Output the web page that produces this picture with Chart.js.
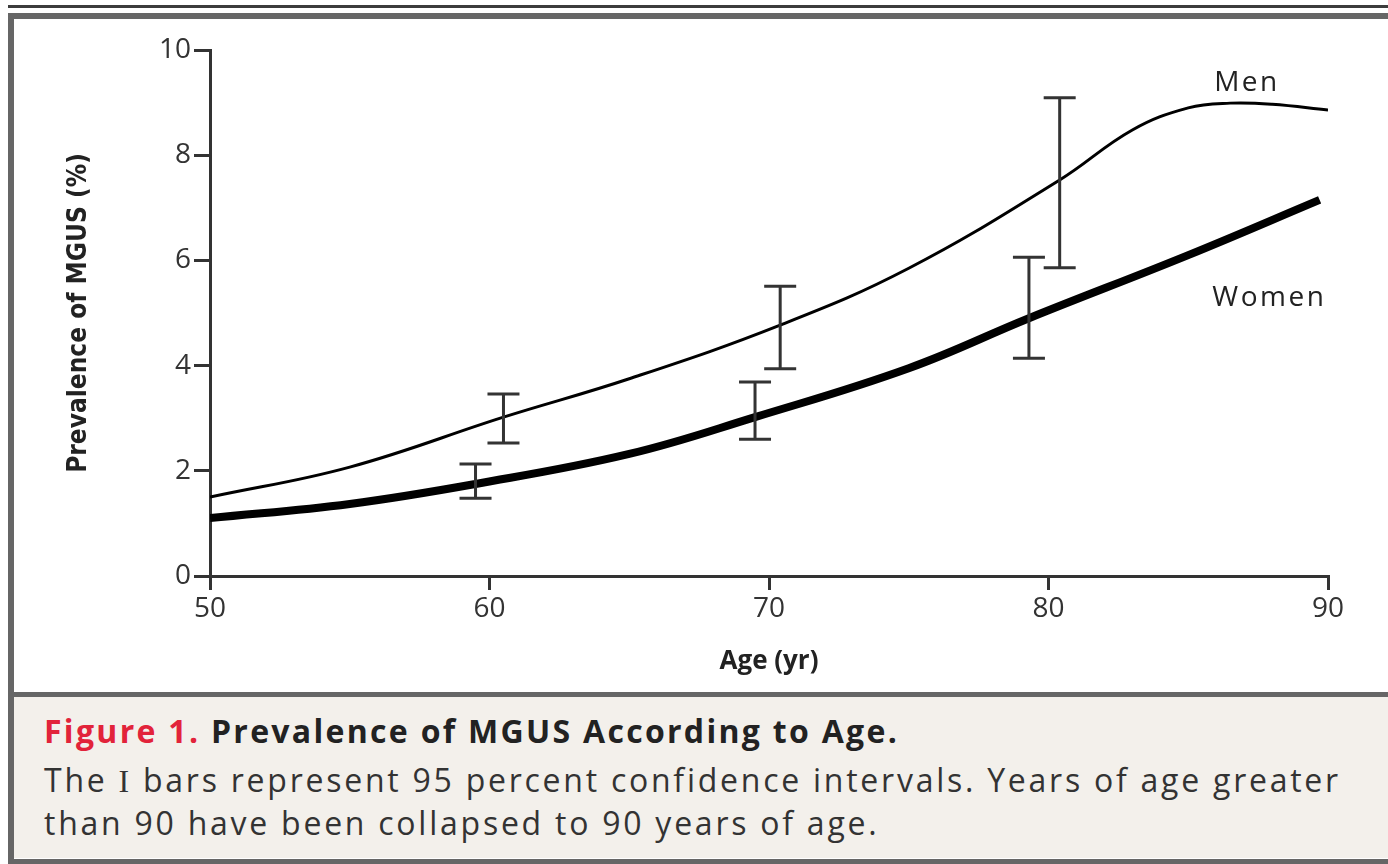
<!DOCTYPE html>
<html>
<head>
<meta charset="utf-8">
<script src="https://cdn.jsdelivr.net/npm/chart.js@4.4.1/dist/chart.umd.min.js"></script>
<style>
  html, body { margin: 0; padding: 0; background: #fff; }
  body { width: 1388px; height: 864px; position: relative; overflow: hidden; font-family: 'Open Sans', sans-serif; }
  #rule { position: absolute; left: 8px; right: 0; top: 5px; height: 3px; background: #3c3c3c; }
  #frame { position: absolute; left: 8px; top: 13px; width: 1400px; height: 840px; border: 6px solid #666; background: #fff; }
  #caption { position: absolute; left: 14px; top: 692px; width: 1400px; height: 161px; border-top: 5px solid #666; background: #f3f0eb; }
  #caption .title { position: absolute; left: 30px; top: 12px; font-size: 32px; font-weight: 700; color: #222; letter-spacing: 2.3px; }
  #caption .title span { color: #e2233a; }
  #caption .text { position: absolute; left: 30px; top: 62px; font-size: 32px; line-height: 42px; color: #333; letter-spacing: 2.75px; width: 1360px; white-space: nowrap; }
  #grafico { position: absolute; left: 0; top: 0; }
</style>
</head>
<body>
<div id="rule"></div>
<div id="frame"></div>
<div id="caption">
  <div class="title"><span>Figure 1.</span> Prevalence of MGUS According to Age.</div>
  <div class="text">The <span style="font-family: 'Liberation Serif', serif;">I</span> bars represent 95 percent confidence intervals. Years of age greater<br>than 90 have been collapsed to 90 years of age.</div>
</div>
<canvas id="grafico" width="1388" height="690"></canvas>
<script>
// curvas ajustadas
const idadesHomens = [50, 55, 60.5, 65, 70.4, 75, 80.4, 83, 85, 86.5, 88, 90];
const prevHomens = [1.50, 2.07, 3.02, 3.75, 4.77, 5.85, 7.53, 8.48, 8.90, 8.99, 8.97, 8.86];
const idadesMulheres = [50, 55, 59.5, 65, 69.5, 75, 79.3, 85, 89.7];
const prevMulheres = [1.10, 1.37, 1.75, 2.32, 3.02, 3.95, 4.90, 6.10, 7.15];

// intervalos de confianca 95%
const icIdadesHomens = [60.5, 70.4, 80.4];
const icInfHomens = [2.53, 3.94, 5.86];
const icSupHomens = [3.46, 5.51, 9.09];
const icIdadesMulheres = [59.5, 69.5, 79.3];
const icInfMulheres = [1.48, 2.60, 4.14];
const icSupMulheres = [2.13, 3.69, 6.06];

const ticksX = [50, 60, 70, 80, 90];
const ticksY = [0, 2, 4, 6, 8, 10];

function pontos(xs, ys) {
    return xs.map((x, i) => ({ x: x, y: ys[i] }));
}

const barrasIC = {
    id: 'barrasIC',
    afterDatasetsDraw(chart) {
        const ctx = chart.ctx;
        const sx = chart.scales.x, sy = chart.scales.y;
        const grupos = [
            [icIdadesHomens, icInfHomens, icSupHomens],
            [icIdadesMulheres, icInfMulheres, icSupMulheres]
        ];
        ctx.save();
        ctx.strokeStyle = '#333';
        ctx.lineWidth = 3;
        grupos.forEach(([idades, inf, sup]) => {
            idades.forEach((idade, i) => {
                const x = sx.getPixelForValue(idade);
                const y1 = sy.getPixelForValue(inf[i]);
                const y2 = sy.getPixelForValue(sup[i]);
                ctx.beginPath();
                ctx.moveTo(x, y1); ctx.lineTo(x, y2);
                ctx.moveTo(x - 16, y1); ctx.lineTo(x + 16, y1);
                ctx.moveTo(x - 16, y2); ctx.lineTo(x + 16, y2);
                ctx.stroke();
            });
        });
        ctx.restore();
    }
};

const rotulos = {
    id: 'rotulos',
    afterDatasetsDraw(chart) {
        const ctx = chart.ctx;
        const sx = chart.scales.x, sy = chart.scales.y;
        ctx.save();
        ctx.fillStyle = '#222';
        ctx.font = '28px "Open Sans"';
        ctx.letterSpacing = '2.5px';
        ctx.textAlign = 'center';
        ctx.textBaseline = 'middle';
        ctx.fillText('Men', sx.getPixelForValue(87.1), sy.getPixelForValue(9.37));
        ctx.fillText('Women', sx.getPixelForValue(87.9), sy.getPixelForValue(5.28));
        ctx.restore();
    }
};

const eixo = {
    display: true,
    color: '#333',
    width: 3
};

new Chart(document.getElementById('grafico').getContext('2d'), {
    type: 'line',
    data: {
        datasets: [{
            label: 'Men',
            data: pontos(idadesHomens, prevHomens),
            borderColor: '#000',
            borderWidth: 3,
            pointRadius: 0,
            tension: 0.4
        }, {
            label: 'Women',
            data: pontos(idadesMulheres, prevMulheres),
            borderColor: '#000',
            borderWidth: 8,
            pointRadius: 0,
            tension: 0.4
        }]
    },
    options: {
        responsive: false,
        animation: false,
        devicePixelRatio: 1,
        layout: { padding: { top: 50, right: 60, left: 0, bottom: 0 } },
        plugins: {
            legend: { display: false },
            tooltip: { enabled: false }
        },
        scales: {
            x: {
                type: 'linear',
                min: 50,
                max: 90,
                afterFit: function(scale) { scale.height = 114; },
                afterBuildTicks: function(scale) { scale.ticks = ticksX.map(v => ({ value: v })); },
                border: eixo,
                grid: { drawOnChartArea: false, drawTicks: true, tickLength: 14, color: '#333', lineWidth: 3 },
                ticks: { color: '#333', padding: 2, font: { family: 'Open Sans', size: 28 } },
                title: {
                    display: true,
                    text: 'Age (yr)',
                    color: '#222',
                    font: { family: 'Open Sans', size: 26, weight: 'bold' },
                    padding: { top: 0, bottom: 13 }
                }
            },
            y: {
                min: 0,
                max: 10,
                afterFit: function(scale) { scale.width = 210; },
                afterBuildTicks: function(scale) { scale.ticks = ticksY.map(v => ({ value: v })); },
                border: eixo,
                grid: { drawOnChartArea: false, drawTicks: true, tickLength: 16, color: '#333', lineWidth: 3 },
                ticks: { color: '#333', padding: 3, font: { family: 'Open Sans', size: 28 } },
                title: {
                    display: true,
                    text: 'Prevalence of MGUS (%)',
                    color: '#222',
                    font: { family: "'DejaVu Sans Condensed', 'Liberation Sans Narrow', sans-serif", size: 26, weight: 'bold' },
                    padding: { top: 64, bottom: 0 }
                }
            }
        }
    },
    plugins: [barrasIC, rotulos]
});
</script>
</body>
</html>
